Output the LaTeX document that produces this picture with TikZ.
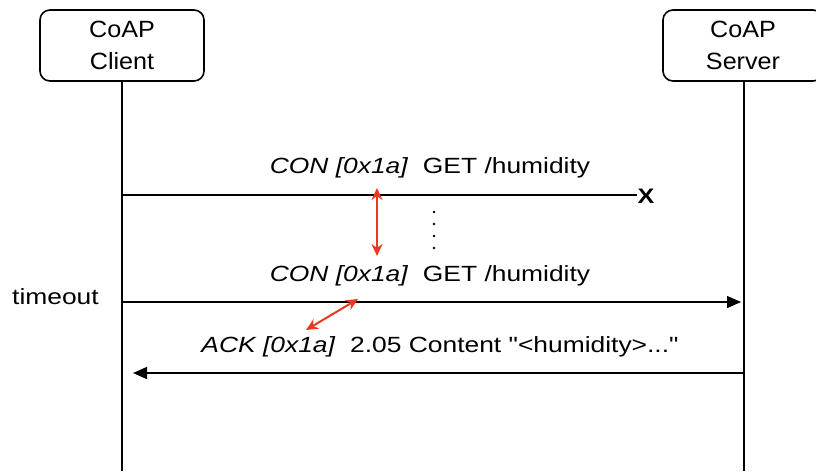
\documentclass[tikz,border=0pt]{standalone}
\usepackage{fontspec}
\setmainfont{Liberation Sans}[FakeStretch=1.2,Ligatures=TeXOff]
\newfontfamily\boxfont{Liberation Sans}[FakeStretch=1.07]
\usetikzlibrary{arrows.meta}
\definecolor{redarr}{RGB}{232,58,30}
\begin{document}
\begin{tikzpicture}[x=1pt,y=-1pt,
  actor/.style={draw,line width=1.6pt,rounded corners=10pt,minimum width=164pt,minimum height=71pt,align=center,font=\boxfont\fontsize{23.5}{32}\selectfont,inner sep=0pt},
  life/.style={line width=1.4pt},
  msg/.style={line width=1.4pt},
  lbl/.style={font=\fontsize{22}{26}\selectfont,inner sep=0pt},
  rarr/.style={draw=redarr,line width=2pt,{Stealth[length=12pt,width=11pt]}-{Stealth[length=12pt,width=11pt]}}
]
\useasboundingbox (0,0) rectangle (816,471);
\node[actor] (client) at (122,45.5) {CoAP\\Client};
\node[actor,minimum width=160pt] (server) at (743,45.5) {CoAP\\Server};
\coordinate (cb) at (122,471);
\coordinate (sb) at (744,471);
\draw[life] (client.south) -- (cb);
\draw[life] (server.south -| sb) -- (sb);
% message 1 (lost)
\coordinate (m1s) at (122,195);
\node[font=\bfseries\fontsize{21}{24}\selectfont,inner sep=0pt] (lost) at (646,196) {X};
\draw[msg] (m1s) -- (lost.west |- m1s);
\node[lbl] (t1) at (430,168) {\textit{CON [0x1a]}\ \ GET /humidity};
% dots
\foreach \yy in {212,224,236,248} \fill (434,\yy) circle (1.3pt);
% message 2
\coordinate (m2s) at (122,302);
\coordinate (m2e) at (741,302);
\draw[msg,-{Triangle[length=14pt,width=12pt]}] (m2s) -- (m2e);
\node[lbl] (t2) at (430,276) {\textit{CON [0x1a]}\ \ GET /humidity};
\node[lbl,anchor=west] (timeout) at (12,297) {timeout};
% message 3
\coordinate (m3s) at (744,373);
\coordinate (m3e) at (133,373);
\draw[msg,-{Triangle[length=14pt,width=12pt]}] (m3s) -- (m3e);
\node[lbl] (t3) at (440,347) {\textit{ACK [0x1a]}\ \ 2.05 Content "<humidity>..."};
% red arrows
\coordinate (r1a) at (377,188);
\coordinate (r1b) at (377,256);
\draw[rarr] (r1a) -- (r1b);
\coordinate (r2a) at (358,299);
\coordinate (r2b) at (306,330);
\draw[rarr] (r2a) -- (r2b);
\end{tikzpicture}
\end{document}
